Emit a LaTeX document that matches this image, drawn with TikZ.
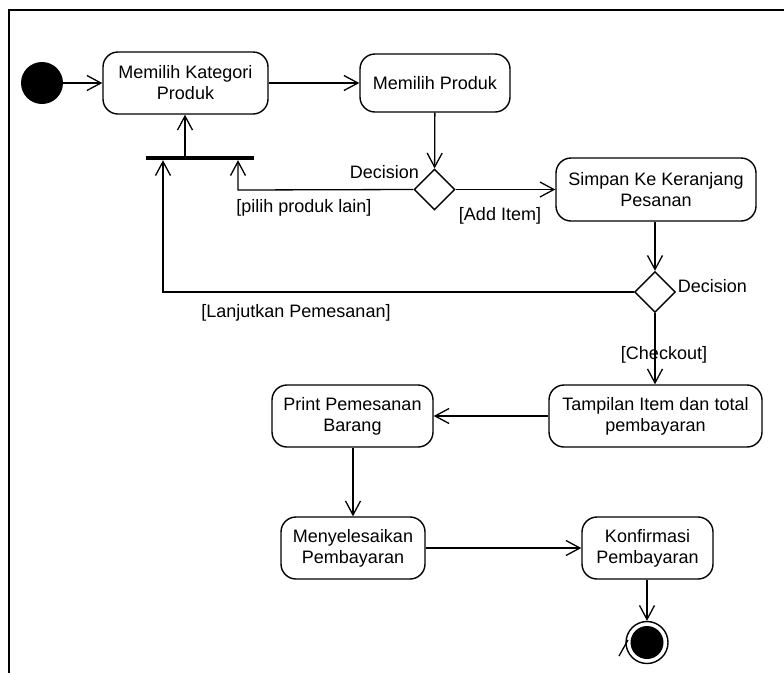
\documentclass[tikz,border=0pt]{standalone}
\usepackage{fontspec}
\setmainfont{Liberation Sans}
\usetikzlibrary{arrows.meta,shapes.geometric}

\tikzset{
  action/.style={draw, line width=1.4pt, rounded corners=15pt, minimum height=62pt,
    align=center, inner sep=0pt, font=\fontsize{18}{21}\selectfont},
  decision/.style={draw, line width=1.4pt, diamond, minimum width=41pt, minimum height=41pt, inner sep=0pt},
  flow/.style={line width=1.3pt, -{Straight Barb[length=14pt,width=15pt,line width=1.3pt]}},
  guard/.style={anchor=base, inner sep=0pt, font=\fontsize{18}{21}\selectfont},
}

\begin{document}
\begin{tikzpicture}[x=1pt, y=-1pt]
  \useasboundingbox (0,0) rectangle (784,673);

  % outer frame (only top and left edges visible)
  \draw[line width=2pt] (784,10) -- (9,10) -- (9,673);

  % start node
  \node[circle, fill=black, minimum size=42pt, inner sep=0pt] (start) at (42,83) {};

  % actions
  \node[action, minimum width=165pt] (kat)   at (185.5,83)  {Memilih Kategori\\Produk};
  \node[action, minimum width=150pt, minimum height=58pt] (prod) at (435,83) {Memilih Produk};
  \node[action, minimum width=200pt, minimum height=63pt] (simpan) at (656,189.5) {Simpan Ke Keranjang\\Pesanan};
  \node[action, minimum width=213pt] (tampil) at (655.5,416) {Tampilan Item dan total\\pembayaran};
  \node[action, minimum width=161pt] (print)  at (352.5,416) {Print Pemesanan\\Barang};
  \node[action, minimum width=144pt] (bayar)  at (353,548)   {Menyelesaikan\\Pembayaran};
  \node[action, minimum width=131pt] (konf)   at (647.5,548) {Konfirmasi\\Pembayaran};

  % merge bar
  \node[fill=black, minimum width=108pt, minimum height=4pt, inner sep=0pt] (bar) at (200,158) {};

  % decisions
  \node[decision] (dec1) at (434.5,189.5) {};
  \node[decision] (dec2) at (655,292) {};

  % final node
  \node[circle, draw, line width=1.4pt, minimum size=42pt, inner sep=0pt] (final) at (647,642.5) {};
  \node[circle, fill=black, minimum size=33pt, inner sep=0pt] (finalin) at (final.center) {};

  % bend points
  \coordinate (pl) at (238,190);
  \coordinate (lj) at (163,292);
  \coordinate (up) at (185,158);

  % flows
  \draw[flow] (start) -- (kat);
  \draw[flow] (kat) -- (prod);
  \draw[flow] (prod) -- (dec1);
  \draw[flow] (dec1) -- (simpan);
  \draw[flow] (dec1.west) -- (pl) -- (bar.south -| pl);
  \draw[flow] (bar.north -| up) -- (kat.south -| up);
  \draw[flow] (simpan.south -| dec2) -- (dec2);
  \draw[flow] (dec2.west) -- (lj) -- (bar.south -| lj);
  \draw[flow] (dec2) -- (tampil.north -| dec2);
  \draw[flow] (tampil) -- (print);
  \draw[flow] (print.south -| bayar) -- (bayar);
  \draw[flow] (bayar) -- (konf);
  \draw[flow] (konf.south -| final) -- (final);

  % small stroke beside the final node
  \coordinate (s1) at (619,656);
  \coordinate (s2) at (628,640);
  \draw[line width=1.3pt] (s1) -- (s2);

  % labels
  \node[guard] (ld1) at (384.5,178) {Decision};
  \node[guard] (ld2) at (712.5,292) {Decision};
  \node[guard] (lpl) at (304,212) {[pilih produk lain]};
  \node[guard] (lai) at (500,220) {[Add Item]};
  \node[guard] (llp) at (296,317) {[Lanjutkan Pemesanan]};
  \node[guard] (lco) at (664,359) {[Checkout]};
\end{tikzpicture}
\end{document}
